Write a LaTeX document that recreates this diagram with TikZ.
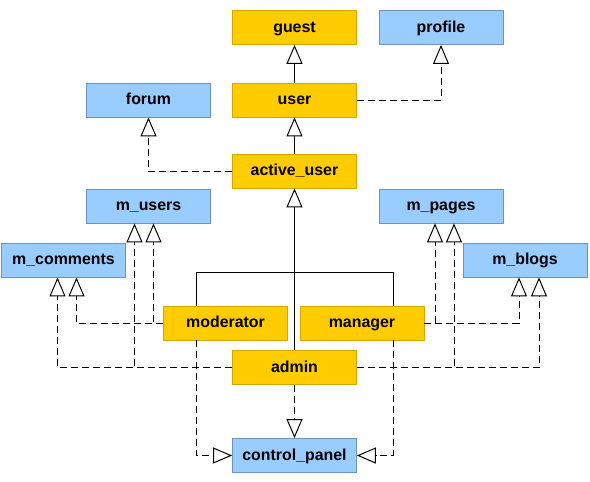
\documentclass[tikz,border=0pt]{standalone}
\usepackage{fontspec}
\setmainfont{Liberation Sans}
\usetikzlibrary{arrows.meta}

\definecolor{rolegold}{HTML}{FFCC00}
\definecolor{resblue}{HTML}{99CCFF}

\begin{document}
\begin{tikzpicture}[x=1pt, y=-1pt,
		box/.style={minimum width=124pt, minimum height=34pt, inner sep=0pt, text height=12.5pt, text depth=3.5pt, line width=0.8pt, font=\fontsize{15.9}{18}\selectfont\bfseries},
		role/.style={box, fill=rolegold, draw=rolegold!82!black},
		res/.style={box, fill=resblue, draw=resblue!72!black},
		inh/.style={line width=1pt, -{Triangle[open, length=19pt, width=16pt]}},
		real/.style={inh, dash pattern=on 7pt off 4pt}]
		\useasboundingbox (0,0) rectangle (590,482);
		% roles
		\node[role] (guest) at (294.5, 27.5) {guest};
		\node[role] (user) at (294.5, 100) {user};
		\node[role] (active) at (294.5, 171) {active\_user};
		\node[role] (moderator) at (225.5, 323) {moderator};
		\node[role] (manager) at (362, 323) {manager};
		\node[role] (admin) at (294.5, 367.5) {admin};
		% resources
		\node[res] (profile) at (441, 27.5) {profile};
		\node[res] (forum) at (148.5, 100) {forum};
		\node[res] (musers) at (148.5, 206) {m\_users};
		\node[res] (mcomments) at (63.5, 260) {m\_comments};
		\node[res] (mpages) at (441, 206) {m\_pages};
		\node[res] (mblogs) at (525, 260) {m\_blogs};
		\node[res] (control) at (294.5, 455.5) {control\_panel};
		% inheritance
		\draw[inh] (user) -- (guest);
		\draw[inh] (active) -- (user);
		\draw[inh] (admin) -- (active);
		\coordinate (join) at (294.5, 272);
		\draw[line width=1pt] ([xshift=-29pt]moderator.north) |- (join);
		\draw[line width=1pt] ([xshift=31pt]manager.north) |- (join);
		% access
		\draw[real] (user) -| (profile);
		\draw[real] (active) -| (forum);
		\draw[real] (moderator) -| ([xshift=5pt]musers.south);
		\draw[real] (moderator) -| ([xshift=13pt]mcomments.south);
		\draw[real] (admin) -| ([xshift=-14pt]musers.south);
		\draw[real] (admin) -| ([xshift=-6pt]mcomments.south);
		\draw[real] (manager) -| ([xshift=-6pt]mpages.south);
		\draw[real] (manager) -| ([xshift=-6pt]mblogs.south);
		\draw[real] (admin) -| ([xshift=13pt]mpages.south);
		\draw[real] (admin) -| ([xshift=14pt]mblogs.south);
		\draw[real] ([xshift=-29pt]moderator.south) |- (control);
		\draw[real] ([xshift=31pt]manager.south) |- (control);
		\draw[real] (admin) -- (control);
\end{tikzpicture}
\end{document}
